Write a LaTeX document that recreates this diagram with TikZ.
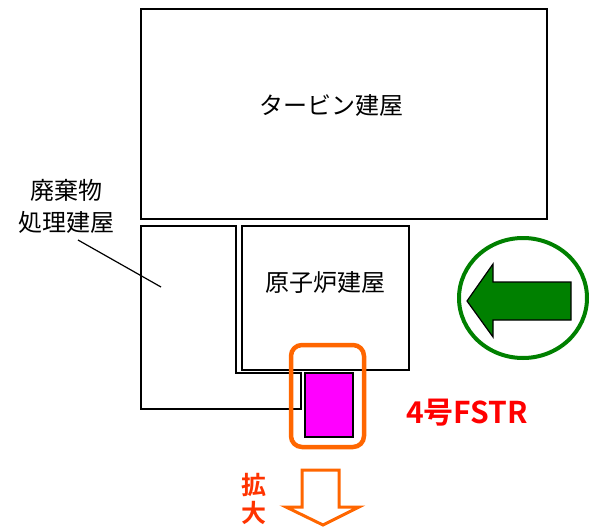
\documentclass[tikz,border=0pt]{standalone}
\usepackage{fontspec}
\setmainfont{Liberation Sans}
\newfontfamily\cjk{Noto Sans CJK JP}[BoldFont={Noto Sans CJK JP Bold}]
\definecolor{fstrred}{RGB}{255,0,0}
\definecolor{kakuorange}{RGB}{255,102,0}
\definecolor{kakured}{RGB}{255,51,0}
\definecolor{arrgreen}{RGB}{0,128,0}
\definecolor{mag}{RGB}{255,0,255}
\tikzset{
  bldg/.style={draw=black, line width=1.6pt},
  lbl/.style={font=\cjk\fontsize{24}{32}\selectfont, inner sep=0pt},
}
\begin{document}
\begin{tikzpicture}[x=1pt, y=-1pt]
\useasboundingbox (0,0) rectangle (590,530);
% turbine building
\draw[bldg] (141,9) rectangle (547,219);
\node[lbl] (turb) at (331,105) {タービン建屋};
% waste building
\draw[bldg, line width=2pt] (141,226) -- (236,226) -- (236,373) -- (301,373) -- (301,409) -- (141,409) -- cycle;
% reactor building
\draw[bldg] (242,226) rectangle (409,370);
\node[lbl] (reac) at (325,283) {原子炉建屋};
% waste label
\node[lbl, align=center] (waste) at (67,206) {廃棄物\\処理建屋};
\coordinate (wl1) at (78,240);
\coordinate (wl2) at (161,287);
\draw[line width=1.2pt] (wl1) -- (wl2);
% FSTR
\draw[line width=1.5pt, fill=mag] (305,373) rectangle (353,437);
\draw[kakuorange, line width=4.5pt, rounded corners=11pt] (291,345) rectangle (364,447);
\node[font=\cjk\bfseries\fontsize{30}{32}\selectfont, text=fstrred, inner sep=0pt] (fstr) at (467,413) {4号FSTR};
% enlarge arrow
\draw[kakuorange, line width=3pt, fill=white, line join=miter] (302,470) -- (339,470) -- (339,507) -- (359,507) -- (323,525) -- (286,507) -- (302,507) -- cycle;
\node[font=\cjk\bfseries\fontsize{25}{28}\selectfont, text=kakured, inner sep=0pt, align=center] (kaku) at (254,499) {拡\\大};
% green circle and arrow
\draw[arrgreen, line width=4pt] (523,298) ellipse [x radius=64, y radius=60];
\draw[black, line width=1.2pt, fill=arrgreen, line join=miter] (467,301) -- (493,264) -- (493,282) -- (571,282) -- (571,320) -- (493,320) -- (493,337) -- cycle;
\end{tikzpicture}
\end{document}
